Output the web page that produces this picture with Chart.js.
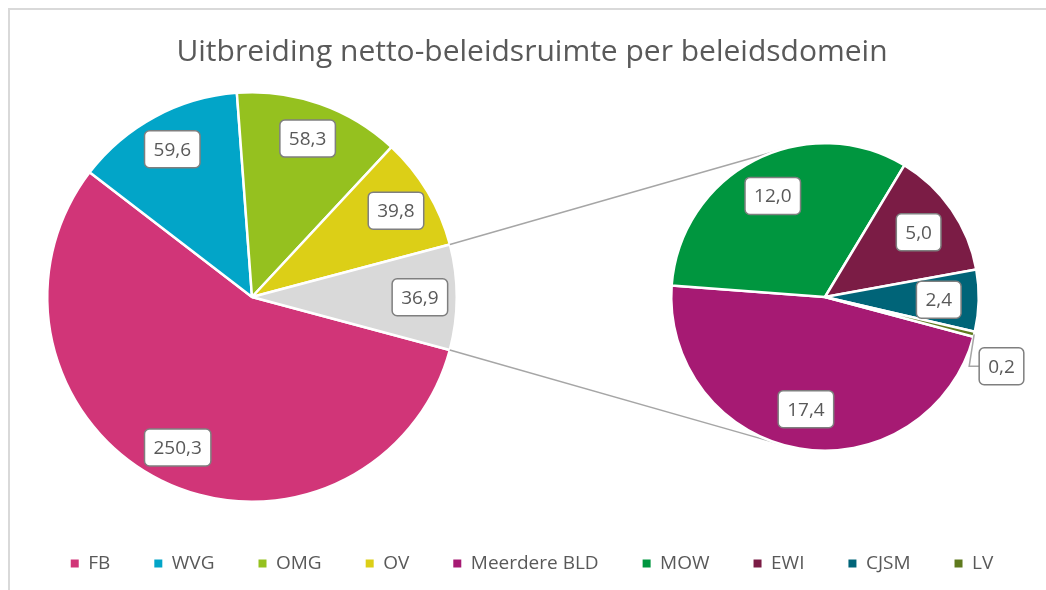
<!DOCTYPE html>
<html>
<head>
<meta charset="utf-8">
<script src="https://cdn.jsdelivr.net/npm/chart.js@4.4.1/dist/chart.umd.min.js"></script>
<style>
  html, body { margin: 0; padding: 0; background: #fff; }
  #wrap { position: relative; width: 1046px; height: 590px; overflow: hidden; }
  #frame { position: absolute; left: 8px; top: 8px; width: 1100px; height: 700px;
           border-left: 2px solid #d9d9d9; border-top: 2px solid #d9d9d9; }
  canvas { position: absolute; left: 0; top: 0; }
</style>
</head>
<body>
<div id="wrap">
  <div id="frame"></div>
  <canvas id="mainPie" width="1046" height="590"></canvas>
  <canvas id="subPie" width="1046" height="590"></canvas>
</div>
<script>
const mainLabels = ["FB", "WVG", "OMG", "OV", "Overige"];
const mainValues = [250.3, 59.6, 58.3, 39.8, 36.9];
const subLabels = ["Meerdere BLD", "MOW", "EWI", "CJSM", "LV"];
const subValues = [17.4, 12.0, 5.0, 2.4, 0.2];

const mainColors = ["#d13578", "#02a5c8", "#95c11f", "#dccf17", "#d9d9d9"];
const subColors = ["#a61a73", "#00963f", "#7b1c45", "#006478", "#5f7a1e"];

const textGrey = "#595959";
const fmt = (v) => v.toFixed(1).replace(".", ",");

// put the pie in a fixed box, title and legend keep the full width
const pinArea = {
  id: "pinArea",
  afterLayout(chart, args, opts) {
    if (!opts.box) return;
    const [l, t, w, h] = opts.box;
    chart.chartArea = { left: l, top: t, right: l + w, bottom: t + h, width: w, height: h };
  }
};

const sliceLabels = {
  id: "sliceLabels",
  afterDatasetsDraw(chart, args, opts) {
    const { ctx } = chart;
    const meta = chart.getDatasetMeta(0);
    const values = chart.data.datasets[0].data;
    const total = values.reduce((a, b) => a + b, 0);
    ctx.save();
    ctx.font = '19px "Open Sans"';
    ctx.textAlign = "center";
    ctx.textBaseline = "middle";
    meta.data.forEach((arc, i) => {
      const { x, y, startAngle, endAngle, outerRadius } = arc;
      const mid = (startAngle + endAngle) / 2;
      const text = fmt(values[i]);
      const w = ctx.measureText(text).width + 18;
      const h = 37;
      let cx, cy;
      if (values[i] / total < 0.02) {
        // tiny slice: box outside with a leader line
        const ax = x + Math.cos(mid) * outerRadius;
        const ay = y + Math.sin(mid) * outerRadius;
        const ex = ax - 5, ey = ay + 32;
        ctx.strokeStyle = "#a6a6a6";
        ctx.lineWidth = 1.5;
        ctx.beginPath();
        ctx.moveTo(ax, ay);
        ctx.lineTo(ex, ey);
        ctx.lineTo(ex + 10, ey);
        ctx.stroke();
        cx = ex + 10 + w / 2;
        cy = ey;
      } else {
        cx = x + Math.cos(mid) * outerRadius * opts.dist;
        cy = y + Math.sin(mid) * outerRadius * opts.dist;
      }
      ctx.beginPath();
      ctx.roundRect(cx - w / 2, cy - h / 2, w, h, 5);
      ctx.fillStyle = "#fff";
      ctx.fill();
      ctx.strokeStyle = "#7f7f7f";
      ctx.lineWidth = 1.5;
      ctx.stroke();
      ctx.fillStyle = textGrey;
      ctx.fillText(text, cx, cy + 1);
    });
    ctx.restore();
  }
};

let mainChart;

// lines from the "Overige" slice to the second pie
const zoomLines = {
  id: "zoomLines",
  beforeDatasetsDraw(chart) {
    if (!mainChart) return;
    const mainMeta = mainChart.getDatasetMeta(0);
    const other = mainMeta.data[mainMeta.data.length - 1];
    const sub = chart.getDatasetMeta(0).data[0];
    const cx = sub.x, cy = sub.y, r = sub.outerRadius;
    const { ctx } = chart;
    ctx.save();
    ctx.strokeStyle = "#a6a6a6";
    ctx.lineWidth = 1.5;
    [[other.startAngle, 1], [other.endAngle, -1]].forEach(([a, side]) => {
      const px = other.x + Math.cos(a) * other.outerRadius;
      const py = other.y + Math.sin(a) * other.outerRadius;
      const d = Math.hypot(px - cx, py - cy);
      const base = Math.atan2(py - cy, px - cx);
      const t = base + side * Math.acos(r / d);
      ctx.beginPath();
      ctx.moveTo(px, py);
      ctx.lineTo(cx + Math.cos(t) * r, cy + Math.sin(t) * r);
      ctx.stroke();
    });
    ctx.restore();
  }
};

const legendItems = () => {
  const items = [];
  mainLabels.slice(0, 4).forEach((l, i) => items.push({ text: l, fillStyle: mainColors[i] }));
  subLabels.forEach((l, i) => items.push({ text: l, fillStyle: subColors[i] }));
  return items.map((it) => ({ ...it, strokeStyle: it.fillStyle, lineWidth: 0, fontColor: textGrey, hidden: false }));
};

mainChart = new Chart(document.getElementById("mainPie"), {
  type: "pie",
  data: {
    labels: mainLabels,
    datasets: [{
      data: mainValues,
      backgroundColor: mainColors,
      borderColor: "#fff",
      borderWidth: 2.5
    }]
  },
  options: {
    responsive: false,
    animation: false,
    rotation: 105,
    events: [],
    layout: { padding: { left: 18, right: 0, top: 0, bottom: 7 } },
    plugins: {
      pinArea: { box: [46, 91, 412, 412] },
      sliceLabels: { dist: 0.82 },
      title: {
        display: true,
        text: "Uitbreiding netto-beleidsruimte per beleidsdomein",
        color: textGrey,
        font: { family: "Open Sans", size: 30, weight: "normal" },
        padding: { top: 34, bottom: 10 }
      },
      legend: {
        position: "bottom",
        labels: {
          boxWidth: 8,
          boxHeight: 8,
          padding: 44,
          color: textGrey,
          font: { family: "Open Sans", size: 19 },
          generateLabels: legendItems
        }
      },
      tooltip: { enabled: false }
    }
  },
  plugins: [pinArea, sliceLabels]
});

new Chart(document.getElementById("subPie"), {
  type: "pie",
  data: {
    labels: subLabels,
    datasets: [{
      data: subValues,
      backgroundColor: subColors,
      borderColor: "#fff",
      borderWidth: 2.5
    }]
  },
  options: {
    responsive: false,
    animation: false,
    rotation: 105,
    events: [],
    plugins: {
      pinArea: { box: [670, 142, 310, 310] },
      sliceLabels: { dist: 0.74 },
      legend: { display: false },
      tooltip: { enabled: false }
    }
  },
  plugins: [pinArea, sliceLabels, zoomLines]
});
</script>
</body>
</html>
